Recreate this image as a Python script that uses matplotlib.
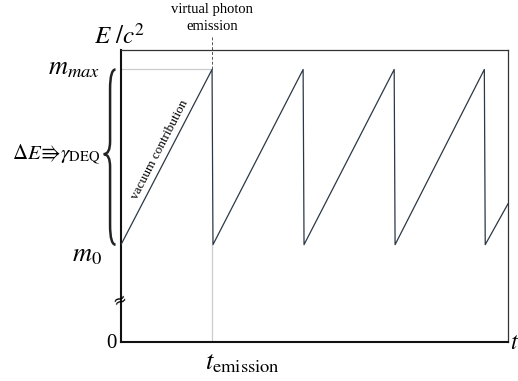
import matplotlib
matplotlib.use("Agg")
import matplotlib.pyplot as plt
from matplotlib.path import Path
from matplotlib.patches import PathPatch

plt.rcParams['font.family'] = ['Liberation Serif', 'DejaVu Serif']
plt.rcParams['mathtext.fontset'] = 'stix'

# sawtooth data (time in emission periods, energy in units of m0)
t_vals = [0.0, 1.0, 1.01, 2.0, 2.01, 3.0, 3.01, 3.99, 4.0, 4.25]
e_vals = [1.0, 2.8, 1.0, 2.8, 1.0, 2.8, 1.0, 2.8, 1.0, 1.42]
m0 = 1.0
m_max = 2.8
t_emission = 1.0
x_max = 4.25
y_max = 3.0

fig = plt.figure(figsize=(5.18, 3.81), dpi=100)
ax = fig.add_axes([121/518, 39/381, 387/518, 292/381])
ax.set_xlim(0, x_max)
ax.set_ylim(0, y_max)
ax.set_xticks([])
ax.set_yticks([])
for s in ['top', 'right']:
    ax.spines[s].set_linewidth(0.9)
    ax.spines[s].set_color('#333333')
for s in ['left', 'bottom']:
    ax.spines[s].set_linewidth(1.5)
    ax.spines[s].set_color('#111111')

# guide lines
ax.plot([0, t_emission], [m_max, m_max], color='#cccccc', lw=0.9, zorder=1)
ax.plot([t_emission, t_emission], [0, m0], color='#cccccc', lw=0.9, zorder=1)
ax.plot([t_emission, t_emission], [m_max, 3.14], color='#555555', lw=0.7,
        ls=(0, (3, 2)), clip_on=False, zorder=1)

# sawtooth
ax.plot(t_vals, e_vals, color='#2b3845', lw=0.9, zorder=3)

# labels
ax.text(-0.01, 3.14, r'$E\ /c^2$', fontsize=18, ha='center', va='center', clip_on=False)
ax.text(t_emission, 3.33, 'virtual photon\nemission', fontsize=10.5, ha='center',
        va='center', linespacing=1.35, clip_on=False)
ax.text(-0.23, m_max, r'$m_{\mathit{max}}$', fontsize=19, ha='right', va='center',
        clip_on=False)
ax.text(-0.21, 0.88, r'$m_{\mathit{0}}$', fontsize=19, ha='right', va='center',
        clip_on=False)
ax.text(-0.225, 1.93, r'$\Delta E\!\Rrightarrow\!\gamma_{\mathrm{DEQ}}$', fontsize=15,
        ha='right', va='center', clip_on=False)
ax.text(-0.05, -0.02, '0', fontsize=15, ha='right', va='center', clip_on=False)
ax.text(0.92, -0.22, r'$t_{\mathrm{emission}}$', fontsize=19, ha='left', va='center',
        clip_on=False)
ax.text(4.27, -0.02, r'$t$', fontsize=17, ha='left', va='center', clip_on=False)
ax.text(0.43, 1.98, 'vacuum contribution', fontsize=9.5, rotation=62.5,
        rotation_mode='anchor', ha='center', va='center', clip_on=False)

# break mark on y axis
ax.text(-0.02, 0.43, '≈', fontsize=12, rotation=25, ha='center', va='center',
        family='DejaVu Sans', clip_on=False)

# curly brace
verts = [(-0.06, 2.8), (-0.12, 2.8), (-0.12, 2.6),
         (-0.12, 2.06),
         (-0.12, 1.93), (-0.19, 1.93),
         (-0.12, 1.93), (-0.12, 1.8),
         (-0.12, 1.2),
         (-0.12, 1.0), (-0.06, 1.0)]
codes = [Path.MOVETO, Path.CURVE3, Path.CURVE3,
         Path.LINETO,
         Path.CURVE3, Path.CURVE3,
         Path.CURVE3, Path.CURVE3,
         Path.LINETO,
         Path.CURVE3, Path.CURVE3]
brace = PathPatch(Path(verts, codes), facecolor='none', edgecolor='#222222',
                  lw=1.8, clip_on=False)
ax.add_patch(brace)

fig.savefig('out.png', dpi=100)
